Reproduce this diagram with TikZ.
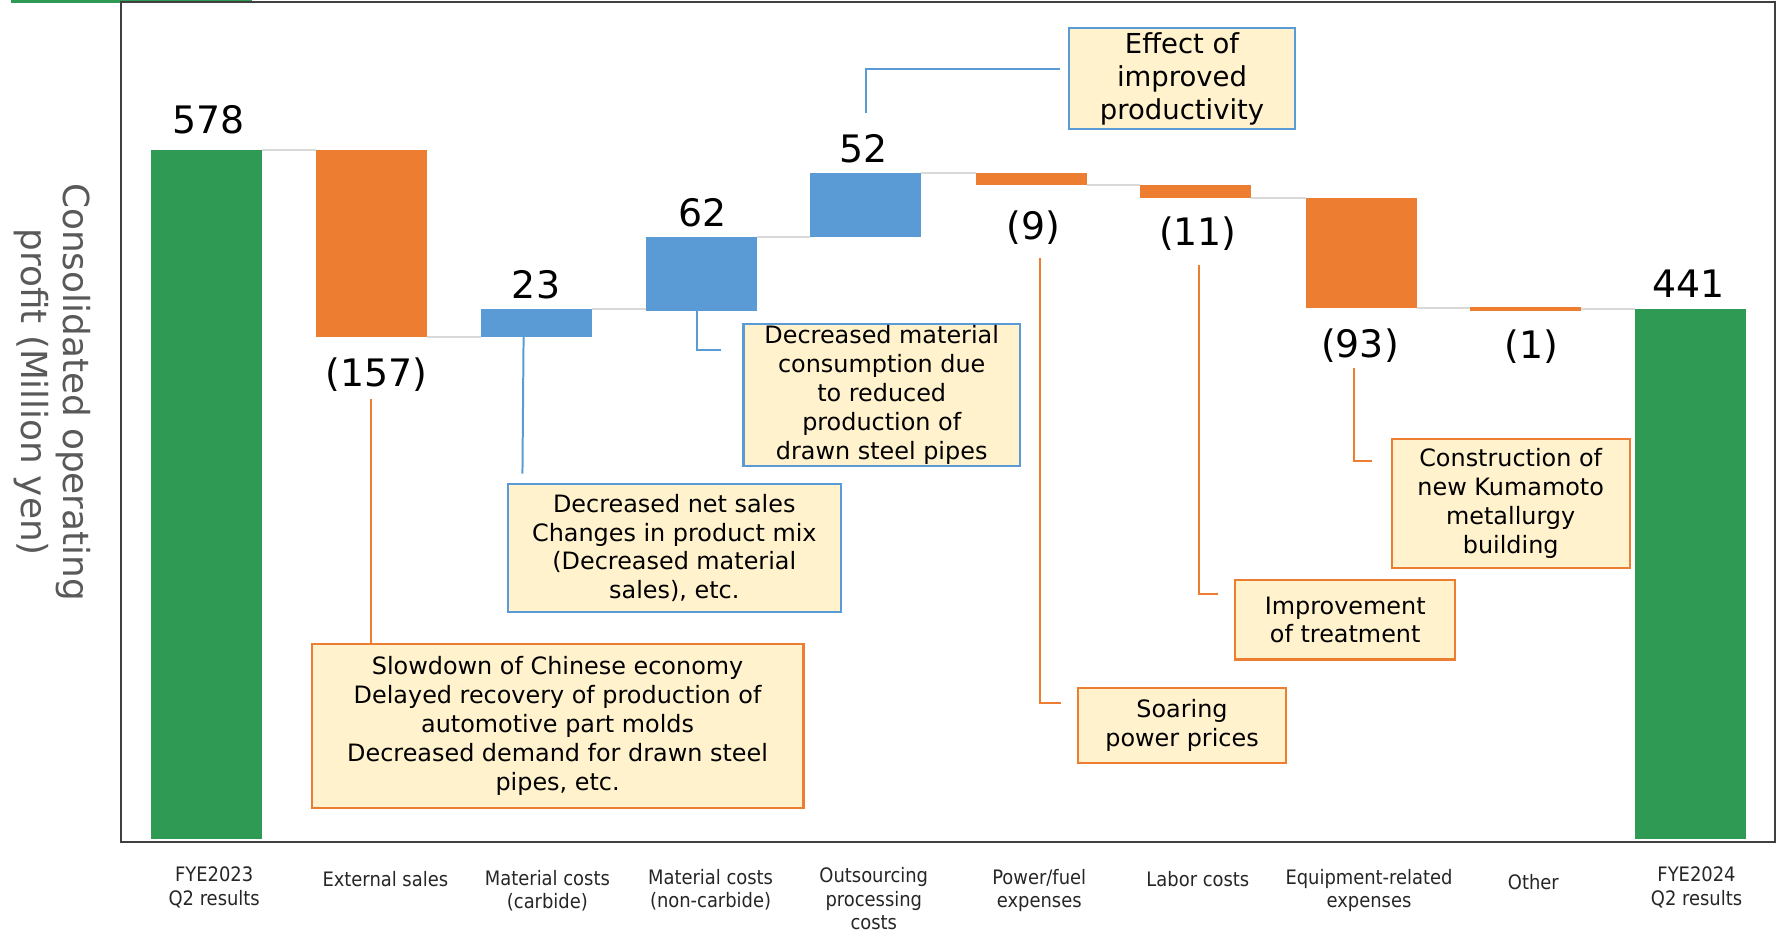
\documentclass[tikz,border=0pt]{standalone}
\usepackage{fontspec}
\setmainfont{DejaVu Sans}
\newfontfamily\condfont{DejaVu Sans Condensed}
\usetikzlibrary{positioning}
\definecolor{profitgreen}{RGB}{46,154,84}
\definecolor{downorange}{RGB}{237,125,49}
\definecolor{upblue}{RGB}{91,155,213}
\definecolor{notefill}{RGB}{255,242,204}
\definecolor{stepgray}{RGB}{217,217,217}
\definecolor{axisgray}{RGB}{89,89,89}
\definecolor{framegray}{RGB}{64,64,64}

\begin{document}
\begin{tikzpicture}[
    x=0.02cm, y=-0.02cm,
    value/.style={inner sep=0pt, font=\fontsize{19}{22}\selectfont},
    note/.style={rectangle, fill=notefill, line width=1.1pt, align=center, inner sep=0pt, font=\fontsize{12}{14.5}\selectfont},
    bluenote/.style={note, draw=upblue},
    orangenote/.style={note, draw=downorange},
    catlabel/.style={align=center, inner sep=0pt, font=\condfont\fontsize{10}{11.7}\selectfont, text=black!85},
    joiner/.style={stepgray, line width=1.1pt},
    bluelink/.style={upblue, line width=1pt},
    orangelink/.style={downorange, line width=1pt}
]
\useasboundingbox (0,0) rectangle (1568,822);
\draw[profitgreen, line width=2pt] (10,1) -- (222,1);
\draw[framegray, line width=1.2pt] (107,2) rectangle (1566,743);
\fill[profitgreen] (133,132) rectangle (231,740);
\fill[downorange] (279,132) rectangle (377,297);
\fill[upblue] (424,273) rectangle (522,297);
\fill[upblue] (570,209) rectangle (668,274);
\fill[upblue] (715,153) rectangle (813,209);
\fill[downorange] (861,153) rectangle (959,163);
\fill[downorange] (1006,163) rectangle (1104,175);
\fill[downorange] (1152,175) rectangle (1250,272);
\fill[downorange] (1297,271) rectangle (1395,274);
\fill[profitgreen] (1443,273) rectangle (1541,740);
\draw[joiner] (231,132) -- (279,132);
\draw[joiner] (377,297) -- (424,297);
\draw[joiner] (522,273) -- (570,273);
\draw[joiner] (668,209) -- (715,209);
\draw[joiner] (813,153) -- (861,153);
\draw[joiner] (959,163) -- (1006,163);
\draw[joiner] (1104,175) -- (1152,175);
\draw[joiner] (1250,272) -- (1297,272);
\draw[joiner] (1395,273) -- (1443,273);
\node[value] (v578) at (184,106) {578};
\node[value] (v157) at (332,331) {(157)};
\node[value] (v23) at (473,251) {23};
\node[value] (v62) at (620,188) {62};
\node[value] (v52) at (762,131) {52};
\node[value] (v9) at (912,201) {(9)};
\node[value] (v11) at (1057,206) {(11)};
\node[value] (v93) at (1200,305) {(93)};
\node[value] (v1) at (1351,306) {(1)};
\node[value] (v441) at (1490,250) {441};
\node[rotate=-90, align=center, text=axisgray, font=\fontsize{18}{21}\selectfont] (ytitle) at (46,346) {Consolidated operating\\profit (Million yen)};
\node[bluenote, minimum width=4cm, minimum height=1.78cm, font=\fontsize{13.8}{16.5}\selectfont] (noteA) at (1043,69.5) {\rule{0pt}{3pt}Effect of\\improved\\productivity};
\node[bluenote, minimum width=4.88cm, minimum height=2.5cm] (noteB) at (778,348.5) {Decreased material\\consumption due\\to reduced\\production of\\drawn steel pipes};
\node[bluenote, minimum width=5.88cm, minimum height=2.26cm] (noteC) at (595,483.5) {Decreased net sales\\Changes in product mix\\(Decreased material\\sales), etc.};
\node[orangenote, minimum width=8.68cm, minimum height=2.9cm] (noteD) at (492,640.5) {Slowdown of Chinese economy\\Delayed recovery of production of\\automotive part molds\\Decreased demand for drawn steel\\pipes, etc.};
\node[orangenote, minimum width=3.68cm, minimum height=1.32cm] (noteE) at (1043,640) {Soaring\\power prices};
\node[orangenote, minimum width=3.88cm, minimum height=1.4cm] (noteF) at (1187,547) {Improvement\\of treatment};
\node[orangenote, minimum width=4.2cm, minimum height=2.28cm] (noteG) at (1333,444) {Construction of\\new Kumamoto\\metallurgy\\building};
\coordinate (tA) at (764,100);
\coordinate (eA) at (935,61);
\coordinate (tB) at (615,274);
\coordinate (eB) at (636,309);
\coordinate (tC) at (462,297);
\coordinate (eC) at (461,418);
\coordinate (tD) at (327,352);
\coordinate (tE) at (918,228);
\coordinate (eE) at (936,620);
\coordinate (tF) at (1058,234);
\coordinate (eF) at (1075,524);
\coordinate (tG) at (1195,325);
\coordinate (eG) at (1211,407);
\draw[bluelink] (tA) |- (eA);
\draw[bluelink] (tB) |- (eB);
\draw[bluelink] (tC) -- (eC);
\draw[orangelink] (tD) -- (tD |- noteD.north);
\draw[orangelink] (tE) |- (eE);
\draw[orangelink] (tF) |- (eF);
\draw[orangelink] (tG) |- (eG);
\node[catlabel] (c1) at (189,783) {FYE2023\\Q2 results};
\node[catlabel] (c2) at (340,776) {External sales};
\node[catlabel] (c3) at (483,786) {Material costs\\(carbide)};
\node[catlabel] (c4) at (627,785) {Material costs\\(non-carbide)};
\node[catlabel] (c5) at (771,793) {Outsourcing\\processing\\costs};
\node[catlabel] (c6) at (917,786) {Power/fuel\\expenses};
\node[catlabel] (c7) at (1057,776) {Labor costs};
\node[catlabel] (c8) at (1208,786) {Equipment-related\\expenses};
\node[catlabel] (c9) at (1353,778) {Other};
\node[catlabel] (c10) at (1497,783) {FYE2024\\Q2 results};
\end{tikzpicture}
\end{document}
